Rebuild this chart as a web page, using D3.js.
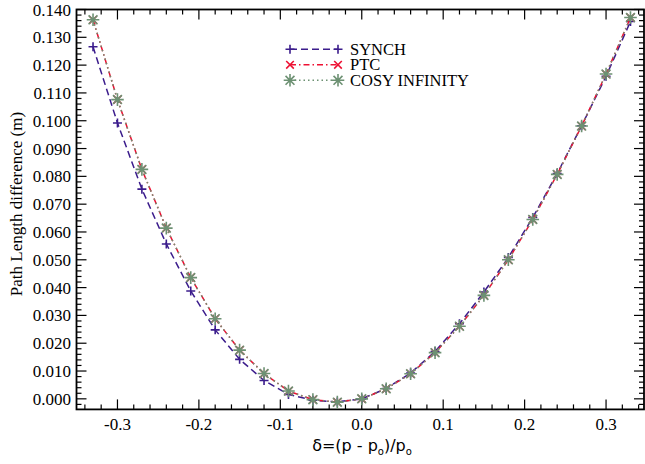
<!DOCTYPE html>
<html><head><meta charset="utf-8">
<script src="https://cdn.jsdelivr.net/npm/d3@7"></script>
<style>html,body{margin:0;padding:0;background:#fff;}svg{display:block;}</style>
</head><body>
<script>
const delta = [-0.33,-0.30,-0.27,-0.24,-0.21,-0.18,-0.15,-0.12,-0.09,-0.06,-0.03,0.00,0.03,0.06,0.09,0.12,0.15,0.18,0.21,0.24,0.27,0.30,0.33];
const synch = [0.1266,0.0992,0.0754,0.0557,0.0388,0.0248,0.0142,0.0066,0.0016,-0.0005,-0.0011,0.0000,0.0037,0.0093,0.0170,0.0270,0.0384,0.0508,0.0652,0.0810,0.0982,0.1160,0.1357];
const ptc   = [0.1363,0.1076,0.0825,0.0614,0.0436,0.0288,0.0175,0.0091,0.0028,-0.0003,-0.0012,0.0000,0.0036,0.0090,0.0166,0.0261,0.0372,0.0500,0.0645,0.0807,0.0981,0.1168,0.1371];
const cosy  = [0.1363,0.1076,0.0825,0.0614,0.0436,0.0288,0.0175,0.0091,0.0028,-0.0003,-0.0012,0.0000,0.0036,0.0090,0.0166,0.0261,0.0372,0.0500,0.0645,0.0807,0.0981,0.1168,0.1371];
const seriesNames = ["SYNCH","PTC","COSY INFINITY"];
const xTicks = [-0.3,-0.2,-0.1,0.0,0.1,0.2,0.3];
const yTicks = [0.000,0.010,0.020,0.030,0.040,0.050,0.060,0.070,0.080,0.090,0.100,0.110,0.120,0.130,0.140];

const W=645,H=464;
const x = d3.scaleLinear().domain([-0.3503,0.3466]).range([76.5,644]);
const y = d3.scaleLinear().domain([-0.0038,0.140]).range([409.4,9.5]);
const svg = d3.select("body").append("svg").attr("width",W).attr("height",H);

const serif = "'Liberation Serif','Times New Roman',serif";

// ticks (inward)
const xMinor = d3.range(-34,35,2).map(d=>d/100);
const yMinor = d3.range(-2,141,2).map(d=>d/1000);
const tg = svg.append("g").attr("stroke","#000").attr("stroke-width",1.2);
const isMajX = v => Math.abs(Math.round(v*10)-v*10)<1e-6;
const isMajY = v => Math.abs(Math.round(v*100)-v*100)<1e-6;
xMinor.forEach(v=>{
  const L = isMajX(v)?10:5; const px=x(v);
  tg.append("line").attr("x1",px).attr("x2",px).attr("y1",y.range()[0]).attr("y2",y.range()[0]-L);
  tg.append("line").attr("x1",px).attr("x2",px).attr("y1",y.range()[1]).attr("y2",y.range()[1]+L);
});
yMinor.forEach(v=>{
  const L = isMajY(v)?10:5; const py=y(v);
  tg.append("line").attr("y1",py).attr("y2",py).attr("x1",x.range()[0]).attr("x2",x.range()[0]+L);
  tg.append("line").attr("y1",py).attr("y2",py).attr("x1",x.range()[1]).attr("x2",x.range()[1]-L);
});
// frame
svg.append("rect").attr("x",x.range()[0]).attr("y",y.range()[1])
  .attr("width",x.range()[1]-x.range()[0]).attr("height",y.range()[0]-y.range()[1])
  .attr("fill","none").attr("stroke","#000").attr("stroke-width",1.8);

// tick labels
svg.append("g").selectAll("text").data(xTicks).join("text")
  .attr("x",d=>x(d)).attr("y",430).attr("text-anchor","middle")
  .attr("font-family",serif).attr("font-size",17).text(d=>d.toFixed(1).replace("-0.0","0.0"));
svg.append("g").selectAll("text").data(yTicks).join("text")
  .attr("x",71).attr("y",d=>y(d)+6).attr("text-anchor","end")
  .attr("font-family",serif).attr("font-size",17).text(d=>d.toFixed(3));

// axis titles
const xt = svg.append("text").attr("x",362).attr("y",451).attr("text-anchor","middle")
  .attr("font-family","'DejaVu Sans',sans-serif").attr("font-size",16);
xt.append("tspan").text("δ=(p - p");
xt.append("tspan").attr("font-size",10).attr("dy",4).text("o");
xt.append("tspan").attr("dy",-4).text(")/p");
xt.append("tspan").attr("font-size",10).attr("dy",4).text("o");
svg.append("text").attr("transform","translate(22,204) rotate(-90)").attr("text-anchor","middle")
  .attr("font-family",serif).attr("font-size",17).text("Path Length difference (m)");

// markers
function plus(g,cx,cy,c){const r=4.5;g.append("path").attr("d",`M${cx-r},${cy}H${cx+r}M${cx},${cy-r}V${cy+r}`).attr("stroke",c).attr("stroke-width",1.6).attr("fill","none");}
function cross(g,cx,cy,c){const r=3.8;g.append("path").attr("d",`M${cx-r},${cy-r}L${cx+r},${cy+r}M${cx-r},${cy+r}L${cx+r},${cy-r}`).attr("stroke",c).attr("stroke-width",1.6).attr("fill","none");}
function star(g,cx,cy,c){const r=6.3,q=r*0.7071;g.append("path").attr("d",`M${cx-r},${cy}H${cx+r}M${cx},${cy-r}V${cy+r}M${cx-q},${cy-q}L${cx+q},${cy+q}M${cx-q},${cy+q}L${cx+q},${cy-q}`).attr("stroke",c).attr("stroke-width",1.6).attr("fill","none");}

const series = [
  {name:seriesNames[0], vals:synch, color:"#3b1c8c", dash:"7,4", mark:plus},
  {name:seriesNames[1], vals:ptc,   color:"#ee1133", dash:"6,3,1.5,3", mark:cross},
  {name:seriesNames[2], vals:cosy,  color:"#6d9173", dash:"1.5,3", mark:star}
];
const line = d3.line().x(d=>x(d[0])).y(d=>y(d[1]));
series.forEach(s=>{
  const g = svg.append("g");
  const pts = delta.map((d,i)=>[d,s.vals[i]]);
  g.append("path").attr("d",line(pts)).attr("fill","none").attr("stroke",s.color)
    .attr("stroke-width",1.5).attr("stroke-dasharray",s.dash);
  pts.forEach(p=>s.mark(g,x(p[0]),y(p[1]),s.color));
});

// legend
series.forEach((s,i)=>{
  const ly = 49.3 + i*15.5;
  const g = svg.append("g");
  g.append("line").attr("x1",290).attr("x2",338).attr("y1",ly).attr("y2",ly)
    .attr("stroke",s.color).attr("stroke-width",1.5).attr("stroke-dasharray",s.dash);
  s.mark(g,290,ly,s.color); s.mark(g,338,ly,s.color);
  g.append("text").attr("x",350).attr("y",ly+5.5).attr("font-family",serif).attr("font-size",16.5).text(s.name);
});
</script>
</body></html>
